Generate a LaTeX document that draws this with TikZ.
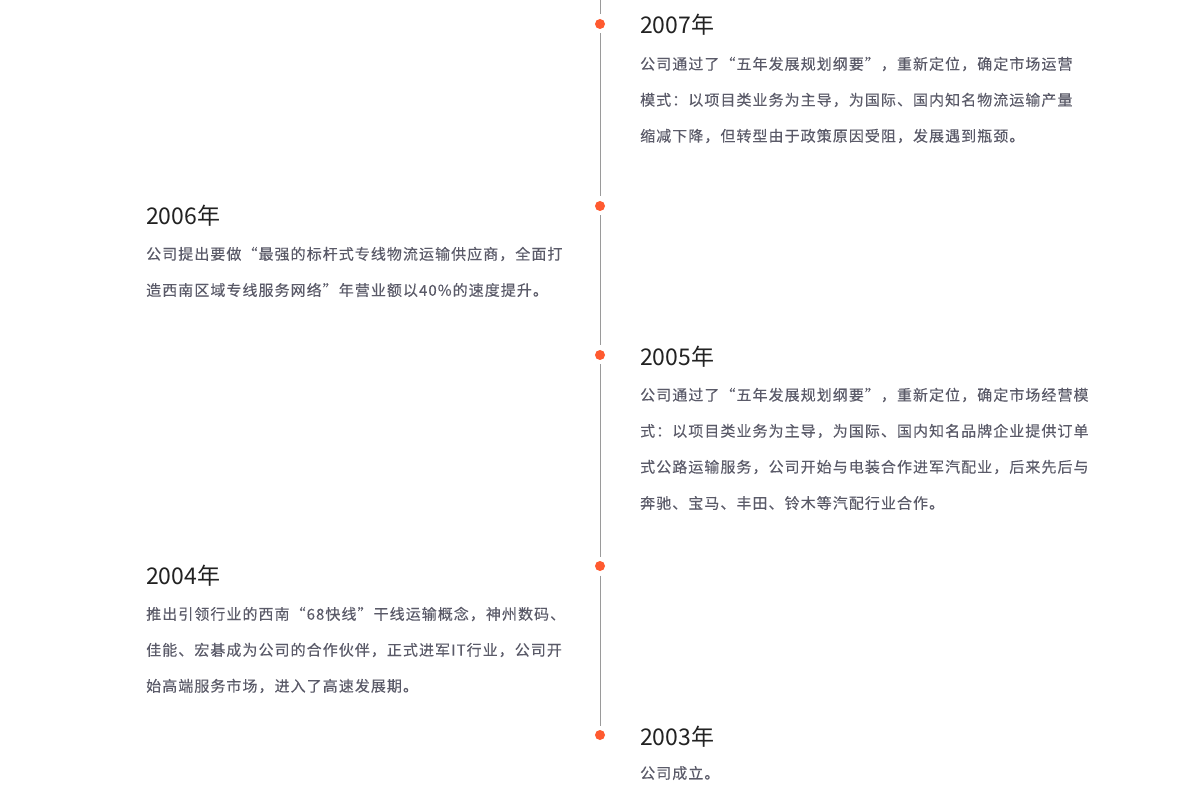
\documentclass[tikz,border=0pt]{standalone}
\usepackage{fontspec}
\newfontfamily\bodyfont[LetterSpace=7,FakeBold=0.15]{Noto Sans CJK SC}
\newfontfamily\titlefont{Noto Sans CJK SC}
\definecolor{dotc}{HTML}{FF5A30}
\definecolor{linec}{HTML}{9A9A9A}
\definecolor{titlec}{HTML}{222222}
\definecolor{bodyc}{HTML}{5A5A68}
\begin{document}
\begin{tikzpicture}[x=1pt,y=-1pt,
  dotnode/.style={circle,fill=dotc,draw=none,minimum size=10pt,inner sep=0pt,outer sep=4.5pt},
  axis/.style={draw=linec,line width=1pt},
  yeartitle/.style={anchor=west,inner sep=0pt,text=titlec,font=\titlefont\fontsize{23pt}{23pt}\selectfont},
  bodyline/.style={anchor=west,inner sep=0pt,text=bodyc,font=\bodyfont\fontsize{15pt}{15pt}\selectfont}]
\useasboundingbox[fill=white] (0,0) rectangle (1200,786);
\coordinate (top) at (600,0);
\node[dotnode] (d7) at (600,24) {};
\node[dotnode] (d6) at (600,206) {};
\node[dotnode] (d5) at (600,355) {};
\node[dotnode] (d4) at (600,566) {};
\node[dotnode] (d3) at (600,735) {};
\draw[axis] (top) -- (d7);
\draw[axis] (d7) -- (d6);
\draw[axis] (d6) -- (d5);
\draw[axis] (d5) -- (d4);
\draw[axis] (d4) -- (d3);
% 2007
\node[yeartitle] (t7) at (640,24.5) {2007年};
\node[bodyline] (b7a) at (640,64) {公司通过了“五年发展规划纲要”，重新定位，确定市场运营};
\node[bodyline] (b7b) at (640,100) {模式：以项目类业务为主导，为国际、国内知名物流运输产量};
\node[bodyline] (b7c) at (640,136) {缩减下降，但转型由于政策原因受阻，发展遇到瓶颈。};
% 2006
\node[yeartitle] (t6) at (146,215.5) {2006年};
\node[bodyline] (b6a) at (146,254) {公司提出要做“最强的标杆式专线物流运输供应商，全面打};
\node[bodyline] (b6b) at (146,290) {造西南区域专线服务网络”年营业额以40\%的速度提升。};
% 2005
\node[yeartitle] (t5) at (640,357) {2005年};
\node[bodyline] (b5a) at (640,395) {公司通过了“五年发展规划纲要”，重新定位，确定市场经营模};
\node[bodyline] (b5b) at (640,431) {式：以项目类业务为主导，为国际、国内知名品牌企业提供订单};
\node[bodyline] (b5c) at (640,467) {式公路运输服务，公司开始与电装合作进军汽配业，后来先后与};
\node[bodyline] (b5d) at (640,503) {奔驰、宝马、丰田、铃木等汽配行业合作。};
% 2004
\node[yeartitle] (t4) at (146,575.5) {2004年};
\node[bodyline] (b4a) at (146,614) {推出引领行业的西南“68快线”干线运输概念，神州数码、};
\node[bodyline] (b4b) at (146,650) {佳能、宏碁成为公司的合作伙伴，正式进军IT行业，公司开};
\node[bodyline] (b4c) at (146,686) {始高端服务市场，进入了高速发展期。};
% 2003
\node[yeartitle] (t3) at (640,737) {2003年};
\node[bodyline] (b3a) at (640,773) {公司成立。};
\end{tikzpicture}
\end{document}
